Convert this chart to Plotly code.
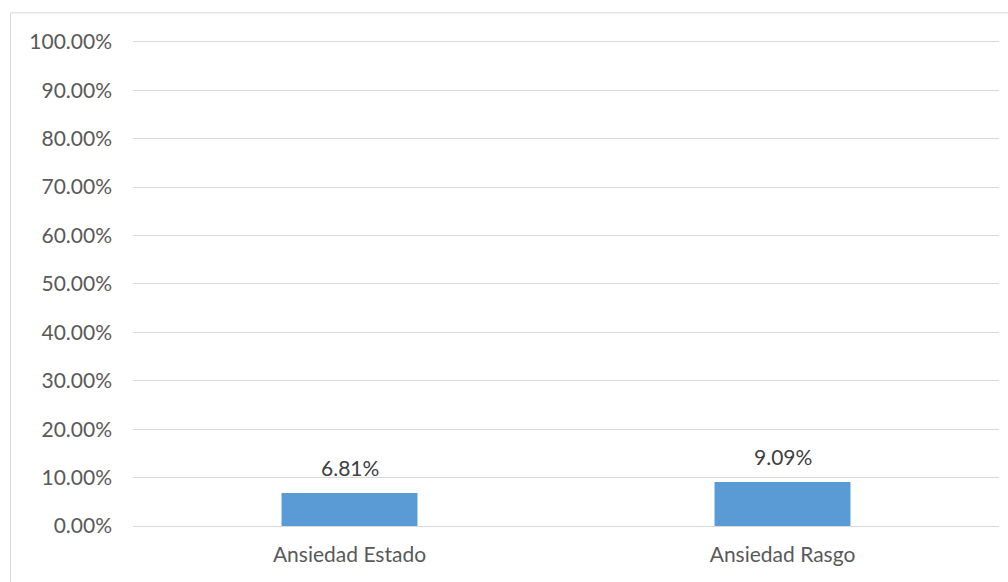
import plotly.graph_objects as go

categories = ["Ansiedad Estado", "Ansiedad Rasgo"]
values = [0.0681, 0.0909]
value_labels = ["6.81%", "9.09%"]
tick_vals = [i / 10 for i in range(11)]
tick_text = [f"{i*10:.2f}%" for i in range(11)]

W, H = 1008, 582
ymax = 1.01
L, R, B = 133, 9, 56
ph = 484.5 * ymax
T = H - B - ph
pw = W - L - R

font_family = "Lato, Open Sans, sans-serif"
fs = 21
fig = go.Figure()
fig.add_trace(go.Bar(
    x=categories, y=values,
    marker=dict(color="#5b9bd5", line=dict(width=0)),
    width=0.314,
))
for c, v, t in zip(categories, values, value_labels):
    fig.add_annotation(x=c, y=v, text=t, showarrow=False, yanchor="bottom",
                       yshift=11, font=dict(size=fs, color="#404040", family=font_family))

fig.add_shape(type="rect", xref="paper", yref="paper",
              x0=(10.5 - L) / pw, x1=(W + 5 - L) / pw,
              y0=-(B + 5) / ph, y1=(H - B - 12.5) / ph,
              line=dict(color="#d9d9d9", width=1), fillcolor="rgba(0,0,0,0)", layer="below")

fig.update_layout(
    width=W, height=H,
    margin=dict(l=L, r=R, t=T, b=B, pad=0),
    paper_bgcolor="white", plot_bgcolor="white",
    showlegend=False,
    bargap=0.686,
    font=dict(family=font_family, size=fs, color="#595959"),
    xaxis=dict(showgrid=False, showline=True, linecolor="#d9d9d9", linewidth=1.3,
               ticks="", ticklabelstandoff=10, tickfont=dict(size=fs, color="#595959")),
    yaxis=dict(range=[0, ymax], tickvals=tick_vals, ticktext=tick_text,
               showgrid=True, gridcolor="#d9d9d9", gridwidth=1.3, zeroline=False,
               showline=False, ticks="", ticklabelstandoff=20,
               tickfont=dict(size=fs, color="#595959")),
)
fig.write_html("out.html")
